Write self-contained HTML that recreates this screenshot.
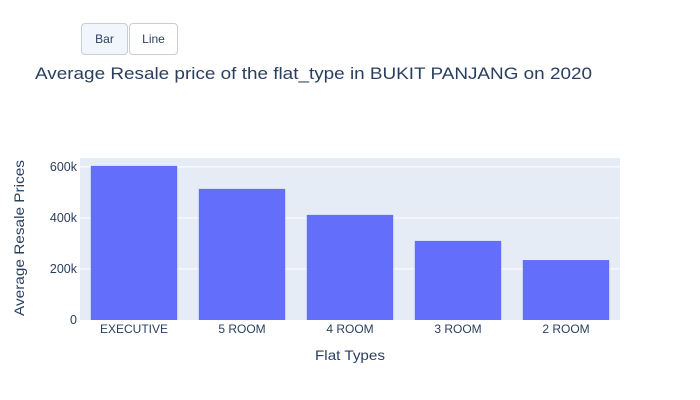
<!DOCTYPE html>
<html><head><meta charset="utf-8"><style>
body{margin:0;width:700px;height:400px;background:#fff;font-family:"Liberation Sans",sans-serif;position:relative;overflow:hidden}
.btn{position:absolute;top:23px;height:32px;border:1px solid #c8cdd6;border-radius:4px;font-size:12px;color:#2a3f5f;display:flex;align-items:center;justify-content:center;box-sizing:border-box;cursor:pointer}
</style></head><body>
<div class="btn" style="left:81px;width:47px;background:#f1f6fd">Bar</div>
<div class="btn" style="left:129px;width:49px;background:#fff">Line</div>
<svg id="chart" width="700" height="400" style="position:absolute;left:0;top:0;pointer-events:none">
<text x="35" y="79" font-size="17" fill="#2a3f5f" textLength="557" lengthAdjust="spacingAndGlyphs">Average Resale price of the flat_type in BUKIT PANJANG on 2020</text>
</svg>
<script>
const categories=["EXECUTIVE","5 ROOM","4 ROOM","3 ROOM","2 ROOM"];
const values=[604000,514000,412000,310000,235000];
const tickValues=[0,200000,400000,600000];
const tickLabels=["0","200k","400k","600k"];
const svg=document.getElementById('chart');const NS="http://www.w3.org/2000/svg";
const L=80,R=620,T=158,B=320,ymax=635000;
const y=v=>B-(v/ymax)*(B-T);
const bw=(R-L)/categories.length;
const x=i=>L+bw*i;
function mk(t,a){const e=document.createElementNS(NS,t);for(const k in a)e.setAttribute(k,a[k]);svg.appendChild(e);return e;}
const bg=mk('rect',{x:L,y:T,width:R-L,height:B-T,fill:'#e5ecf6'});


tickValues.forEach((v,i)=>{
 if(v>0){const g=mk('line',{x1:L,x2:R,y1:y(v),y2:y(v),stroke:'#fff','stroke-width':1});
 
 }
 const t=mk('text',{x:L-3,y:y(v)+4,'text-anchor':'end','font-size':12.5,fill:'#2a3f5f'});t.textContent=tickLabels[i];
 
 
});
categories.forEach((c,i)=>{
 const r=mk('rect',{x:x(i)+bw*0.1,y:y(values[i]),width:bw*0.8,height:B-y(values[i]),fill:'#636efa'});
 
 
 const t=mk('text',{x:x(i)+bw/2,y:B+13,'text-anchor':'middle','font-size':12,fill:'#2a3f5f'});t.textContent=c;
 
 
});
const xt=mk('text',{x:350,y:360,'text-anchor':'middle','font-size':14,fill:'#2a3f5f',textLength:70,lengthAdjust:'spacingAndGlyphs'});xt.textContent="Flat Types";


const yt=mk('text',{x:0,y:0,'text-anchor':'middle','font-size':14,fill:'#2a3f5f',textLength:156,lengthAdjust:'spacingAndGlyphs',transform:'translate(24,238) rotate(-90)'});yt.textContent="Average Resale Prices";


</script>
</body></html>
